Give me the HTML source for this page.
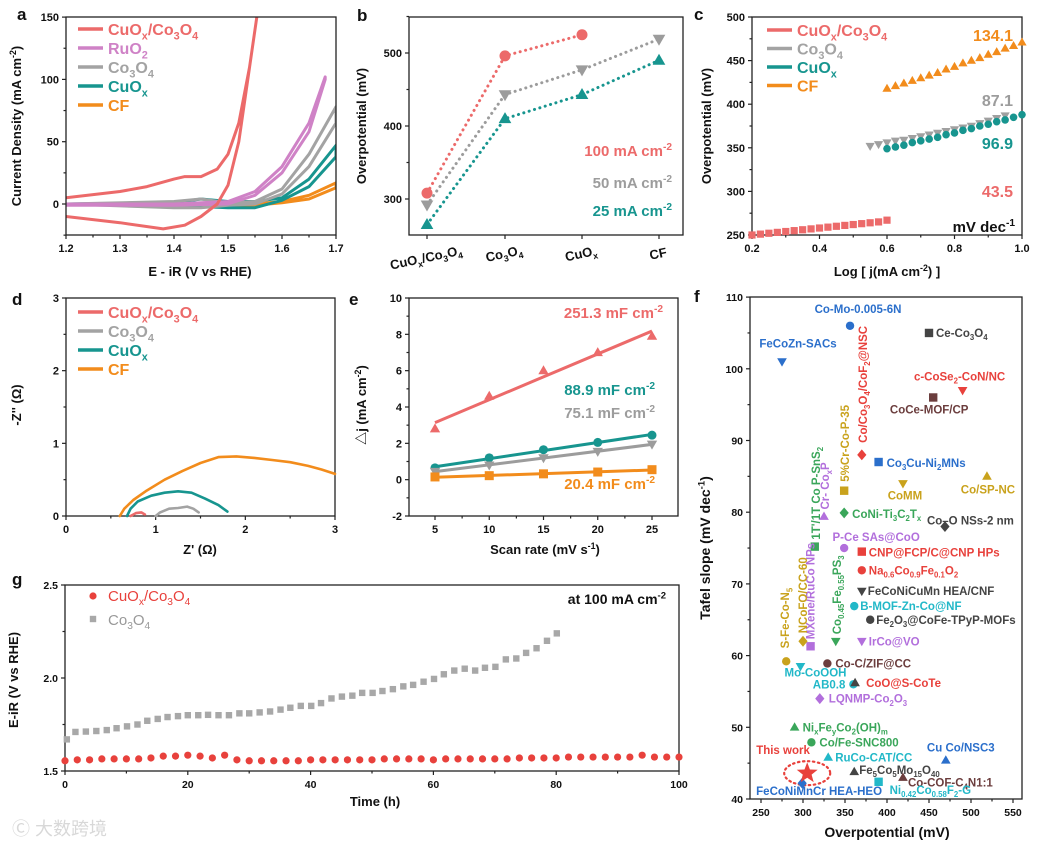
<!DOCTYPE html>
<html><head><meta charset="utf-8"><style>
html,body{margin:0;padding:0;background:#fff;}
svg{display:block;font-family:"Liberation Sans","Noto Sans CJK SC",sans-serif;}
</style></head><body>
<svg id="fig" width="1039" height="851" viewBox="0 0 1039 851" xmlns="http://www.w3.org/2000/svg"></svg>
<script>
// ---------- DATA ----------
// panel a (CV curves): voltage / current pairs per branch
const aV1=[1.2,1.3,1.35,1.4,1.42,1.45,1.48,1.5,1.52,1.54,1.555];
const aCuCoUp=[5,10,14,20,22,22,28,40,65,110,155];
const aV2=[1.2,1.3,1.38,1.42,1.45,1.48,1.5,1.52,1.54,1.555];
const aCuCoDn=[-10,-15,-20,-17,-10,0,15,50,110,155];
const aVr=[1.2,1.4,1.5,1.55,1.6,1.65,1.68];
const aRuUp=[0,0,2,10,30,65,102];
const aRuDn=[-1,-1,0,7,25,58,100];
const aVc=[1.2,1.4,1.45,1.5,1.55,1.6,1.65,1.7];
const aCoUp=[0,2,4,1,2,12,40,78];
const aCoDn=[0,-3,-3,-1,0,8,30,65];
const aCuUp=[0,1,4,2,2,5,20,47];
const aCuDn=[0,-1,-2,-3,-3,3,14,38];
const aCFUp=[0,0,0,0,0,2,7,17];
const aCFDn=[0,-1,-1,-1,-1,1,4,13];
// panel b
const bCats=["CuO_{x}/Co_{3}O_{4}","Co_{3}O_{4}","CuO_{x}","CF"];
const b100=[308,496,525];
const b50=[292,443,477,519];
const b25=[265,410,443,490];
// panel c
const cXCuCo=[0.2,0.225,0.25,0.275,0.3,0.325,0.35,0.375,0.4,0.425,0.45,0.475,0.5,0.525,0.55,0.575,0.6];
const cYCuCo=[250,251,252,253,254,255,256,257,258,259,260,261,262,263,264,265,267];
const cXCo=[0.55,0.575,0.6,0.625,0.65,0.675,0.7,0.725,0.75,0.775,0.8,0.825,0.85,0.875,0.9,0.925,0.95];
const cYCo=[352,354,356,358,359,361,363,365,367,369,371,373,375,378,381,384,387];
const cXCu=[0.6,0.625,0.65,0.675,0.7,0.725,0.75,0.775,0.8,0.825,0.85,0.875,0.9,0.925,0.95,0.975,1.0];
const cYCu=[349,351,353,356,358,360,362,365,367,370,372,375,377,380,382,385,388];
const cYCF=[418,421,424,427,430,433,436,440,443,447,450,453,457,460,464,467,471];
// panel d (Nyquist)
const dCFx=[0.6,0.65,0.75,0.9,1.1,1.3,1.5,1.7,1.9,2.1,2.3,2.5,2.7,2.85,3.0];
const dCFy=[0,0.1,0.22,0.35,0.5,0.62,0.73,0.81,0.82,0.8,0.77,0.74,0.69,0.64,0.58];
const dCux=[0.68,0.72,0.8,0.95,1.1,1.25,1.4,1.55,1.7,1.8];
const dCuy=[0,0.1,0.2,0.28,0.32,0.34,0.32,0.24,0.15,0.06];
const dCox=[1.0,1.05,1.15,1.25,1.35,1.42,1.48];
const dCoy=[0,0.05,0.1,0.11,0.13,0.1,0.05];
const dCCx=[0.72,0.78,0.84,0.88];
const dCCy=[0,0.04,0.05,0.02];
// panel e
const eScan=[5,10,15,20,25];
const eCuCo=[2.8,4.6,6.0,7.0,7.9];
const eCu=[0.65,1.2,1.65,2.05,2.45];
const eCo=[0.45,0.8,1.2,1.55,1.95];
const eCF=[0.15,0.22,0.32,0.42,0.55];
// panel f
const fNames=["Co-Mo-0.005-6N","FeCoZn-SACs","Ce-Co_{3}O_{4}","Co/Co_{3}O_{4}/CoF_{2}@NSC","c-CoSe_{2}-CoN/NC","CoCe-MOF/CP","5%Cr-Co-P-35","Co_{3}Cu-Ni_{2}MNs","CoMM","Co/SP-NC","1T'/1T Co P-SnS_{2}","Cr- Co_{x}P","CoNi-Ti_{3}C_{2}T_{x}","Co\u2013O NSs-2 nm","P-Ce SAs@CoO","CNP@FCP/C@CNP HPs","Na_{0.6}Co_{0.9}Fe_{0.1}O_{2}","FeCoNiCuMn HEA/CNF","B-MOF-Zn-Co@NF","Fe_{2}O_{3}@CoFe-TPyP-MOFs","IrCo@VO","Co_{0.45}Fe_{0.55}PS_{3}","MXene/RuCo NPs","NCoFO/CC-60","S-Fe-Co-N_{5}","Mo-CoOOH","Co-C/ZIF@CC","AB0.8","CoO@S-CoTe","LQNMP-Co_{2}O_{3}","Ni_{x}Fe_{y}Co_{2}(OH)_{m}","Co/Fe-SNC800","RuCo-CAT/CC","Cu Co/NSC3","Fe_{5}Co_{5}Mo_{15}O_{40}","Co-COF-C_{4}N1:1","Ni_{0.42}Co_{0.58}F_{2}-G","FeCoNiMnCr HEA-HEO","This work"];
const fOver=[356,275,450,370,490,455,349,390,419,519,314,325,349,469,349,370,370,370,361,380,370,339,309,300,280,297,329,360,362,320,290,310,330,470,361,419,390,299,305];
const fTafel=[106,101,105,88,97,96,83,87,84,85,75.2,79.4,79.9,78,75,74.5,71.9,69,66.9,65,62,62,61.3,62,59.2,58.5,58.9,56,56.2,54,50,47.9,45.8,45.4,43.8,43,42.4,42.2,43.6];
// panel g
const gTimeRed=[0,2,4,6,8,10,12,14,16,18,20,22,24,26,28,30,32,34,36,38,40,42,44,46,48,50,52,54,56,58,60,62,64,66,68,70,72,74,76,78,80,82,84,86,88,90,92,94,96,98,100];
const gRed=[1.555,1.56,1.56,1.565,1.565,1.565,1.565,1.57,1.58,1.58,1.585,1.58,1.57,1.585,1.56,1.555,1.555,1.555,1.555,1.555,1.56,1.56,1.56,1.56,1.56,1.56,1.565,1.565,1.565,1.565,1.56,1.565,1.565,1.565,1.565,1.565,1.565,1.57,1.57,1.57,1.57,1.575,1.575,1.575,1.575,1.575,1.575,1.585,1.575,1.575,1.575];
const gTimeGray=[0.3,1.7,3.4,5.1,6.8,8.4,10.1,11.8,13.4,15.1,16.7,18.4,20,21.7,23.3,25,26.7,28.4,30,31.7,33.4,35.1,36.7,38.4,40.1,41.7,43.4,45.1,46.8,48.4,50.1,51.7,53.4,55.1,56.7,58.4,60.1,61.7,63.4,65.1,66.8,68.4,70.1,71.8,73.5,75.1,76.8,78.5,80.1];
const gGray=[1.67,1.71,1.712,1.715,1.72,1.73,1.74,1.75,1.77,1.78,1.79,1.795,1.8,1.8,1.802,1.8,1.8,1.81,1.81,1.815,1.82,1.83,1.84,1.85,1.85,1.865,1.89,1.9,1.905,1.92,1.92,1.93,1.94,1.955,1.963,1.98,1.995,2.02,2.04,2.05,2.04,2.055,2.06,2.1,2.105,2.135,2.16,2.2,2.24];

// ---------- HELPERS ----------
const NS="http://www.w3.org/2000/svg";
const svg=document.getElementById('fig');
function mk(tag,parent){const e=document.createElementNS(NS,tag);(parent||svg).appendChild(e);return e;}
function sa(e,k,v){e.setAttribute(k,v);}
function rich(t,str,fs){
  const re=/([_^])\{([^}]*)\}/g;let last=0,m;let shifted=0;
  function plain(s){if(!s)return;const ts=mk('tspan',t);ts.textContent=s;if(shifted){sa(ts,'dy',-shifted);shifted=0;}}
  while((m=re.exec(str))){plain(str.slice(last,m.index));const ts=mk('tspan',t);ts.textContent=m[2];sa(ts,'font-size',fs*0.68);const d=m[1]==='_'?fs*0.28:-fs*0.4;sa(ts,'dy',d+(-shifted));shifted=d;last=re.lastIndex;}
  const rest=str.slice(last);if(rest)plain(rest);else if(shifted){const ts=mk('tspan',t);ts.textContent='\u200b';sa(ts,'dy',-shifted);}
}
function txt(parent,x,y,str,fs,color,anchor,weight,rot){const t=mk('text',parent);sa(t,'x',x);sa(t,'y',y);sa(t,'font-size',fs);sa(t,'fill',color||'#111');sa(t,'text-anchor',anchor||'start');sa(t,'font-weight',weight||'bold');if(rot)sa(t,'transform',`rotate(${rot} ${x} ${y})`);rich(t,str,fs);return t;}
function line(p,x1,y1,x2,y2,c,w){const l=mk('line',p);sa(l,'x1',x1);sa(l,'y1',y1);sa(l,'x2',x2);sa(l,'y2',y2);sa(l,'stroke',c||'#222');sa(l,'stroke-width',w||1.2);return l;}
function poly(p,pts,c,w,dash){const l=mk('polyline',p);sa(l,'points',pts.map(q=>q[0].toFixed(1)+','+q[1].toFixed(1)).join(' '));sa(l,'fill','none');sa(l,'stroke',c);sa(l,'stroke-width',w);sa(l,'stroke-linejoin','round');sa(l,'stroke-linecap','round');if(dash)sa(l,'stroke-dasharray',dash);return l;}
function marker(p,type,x,y,s,c){let e;
  if(type==='circle'){e=mk('circle',p);sa(e,'cx',x);sa(e,'cy',y);sa(e,'r',s);}
  else if(type==='square'){e=mk('rect',p);sa(e,'x',x-s);sa(e,'y',y-s);sa(e,'width',2*s);sa(e,'height',2*s);}
  else{e=mk('polygon',p);let pts;
    if(type==='up')pts=[[x,y-s*1.2],[x+s*1.15,y+s*0.8],[x-s*1.15,y+s*0.8]];
    else if(type==='down')pts=[[x,y+s*1.2],[x+s*1.15,y-s*0.8],[x-s*1.15,y-s*0.8]];
    else if(type==='diamond')pts=[[x,y-s*1.3],[x+s*1.1,y],[x,y+s*1.3],[x-s*1.1,y]];
    else{pts=[];for(let i=0;i<10;i++){const r=i%2?s*0.42:s;const a=-Math.PI/2+i*Math.PI/5;pts.push([x+r*Math.cos(a),y+r*Math.sin(a)]);}}
    sa(e,'points',pts.map(q=>q.join(',')).join(' '));}
  sa(e,'fill',c);return e;}
function frame(p,x0,x1,y0,y1,X,Y,xt,yt,xmin,ymin,fx,fy,fs){
  const r=mk('rect',p);sa(r,'x',x0);sa(r,'y',y0);sa(r,'width',x1-x0);sa(r,'height',y1-y0);sa(r,'fill','none');sa(r,'stroke','#222');sa(r,'stroke-width',1.3);
  xt.forEach(v=>{const x=X(v);line(p,x,y1,x,y1+4);if(fx!==null)txt(p,x,y1+17,fx(v),fs||11,'#111','middle');});
  (xmin||[]).forEach(v=>{const x=X(v);line(p,x,y1,x,y1+2.5);});
  yt.forEach(v=>{const y=Y(v);line(p,x0-4,y,x0,y);txt(p,x0-7,y+4,fy(v),fs||11,'#111','end');});
  (ymin||[]).forEach(v=>{const y=Y(v);line(p,x0-2.5,y,x0,y);});
}
function grp(name){const g=mk('g');return g;}
function letter(x,y,s){const t=txt(svg,x,y,s,17,'#111','start','bold');}
function clip(id,x,y,w,h){const d=mk('defs');const c=mk('clipPath',d);sa(c,'id',id);const r=mk('rect',c);sa(r,'x',x);sa(r,'y',y);sa(r,'width',w);sa(r,'height',h);}
const RED='#ec6a6a',PINK='#cf82c6',GRAY='#a3a3a3',TEAL='#17958f',ORG='#f28c1c';

// ---------- PANEL A ----------
(function(){
 const g=grp('panel-a-cv-chart');
 const X=v=>66+(v-1.2)/0.5*270, Y=j=>204-j*62.3/50;
 clip('ca',66,17,270,218);
 const cg=mk('g',g);sa(cg,'clip-path','url(#ca)');
 function cv(vs1,up,vs2,dn,c,n){const pts=vs1.map((v,i)=>[X(v),Y(up[i])]).concat(vs2.map((v,i)=>[X(v),Y(dn[i])]).reverse());const l=poly(cg,pts,c,3);}
 cv(aVc,aCFUp,aVc,aCFDn,ORG,'cf');
 cv(aVc,aCuUp,aVc,aCuDn,TEAL,'cuox');
 cv(aVc,aCoUp,aVc,aCoDn,GRAY,'co3o4');
 cv(aVr,aRuUp,aVr,aRuDn,PINK,'ruo2');
 cv(aV1,aCuCoUp,aV2,aCuCoDn,RED,'cuox-co3o4');
 frame(g,66,336,17,235,X,Y,[1.2,1.3,1.4,1.5,1.6,1.7],[0,50,100,150],[1.25,1.35,1.45,1.55,1.65],[-25,25,75,125],v=>v.toFixed(1),v=>String(v));
 const leg=[["CuO_{x}/Co_{3}O_{4}",RED],["RuO_{2}",PINK],["Co_{3}O_{4}",GRAY],["CuO_{x}",TEAL],["CF",ORG]];
 leg.forEach((l,i)=>{const y=29+i*19;const lg=grp('legend-entry-a-'+i);g.appendChild(lg);line(lg,78,y,103,y,l[1],3.5);txt(lg,108,y+6,l[0],16,l[1]);});
 txt(g,200,276,"E - iR (V vs RHE)",13,'#111','middle');
 txt(g,21,126,"Current Density (mA cm^{-2})",13,'#111','middle','bold',-90);
})();
letter(17,20,'a');

// ---------- PANEL B ----------
(function(){
 const g=grp('panel-b-overpotential-chart');
 const X=i=>[427,505,582,659][i], Y=v=>199-(v-300)*0.73;
 frame(g,409,683,17,235,X,Y,[0,1,2,3],[300,400,500],null,[350,450,550],null,v=>String(v));
 const ser=[[b100,RED,'circle','100'],[b50,'#9c9c9c','down','50'],[b25,TEAL,'up','25']];
 ser.forEach(s=>{const pts=s[0].map((v,i)=>[X(i),Y(v)]);poly(g,pts,s[1],3,'0.1,5.5');s[0].forEach((v,i)=>{const m=marker(g,s[2],X(i),Y(v),5.5,s[1]);});});
 bCats.forEach((c,i)=>{const t=txt(g,X(i),262-(i===0?0:4),c,13,'#111','middle','bold',-12);});
 txt(g,672,156,"100 mA cm^{-2}",15,RED,'end');
 txt(g,672,188,"50 mA cm^{-2}",15,'#9c9c9c','end');
 txt(g,672,216,"25 mA cm^{-2}",15,TEAL,'end');
 txt(g,366,126,"Overpotential (mV)",13,'#111','middle','bold',-90);
})();
letter(357,21,'b');

// ---------- PANEL C ----------
(function(){
 const g=grp('panel-c-tafel-chart');
 const X=x=>752+(x-0.2)/0.8*270, Y=v=>235-(v-250)/250*218;
 frame(g,752,1022,17,235,X,Y,[0.2,0.4,0.6,0.8,1.0],[250,300,350,400,450,500],[0.3,0.5,0.7,0.9],[275,325,375,425,475],v=>v.toFixed(1),v=>String(v));
 cXCuCo.forEach((x,i)=>marker(g,'square',X(x),Y(cYCuCo[i]),3.6,RED));
 cXCo.forEach((x,i)=>marker(g,'down',X(x),Y(cYCo[i]),4,'#a0a0a0'));
 cXCu.forEach((x,i)=>marker(g,'circle',X(x),Y(cYCu[i]),3.8,TEAL));
 cXCu.forEach((x,i)=>marker(g,'up',X(x),Y(cYCF[i]),4,ORG));
 const leg=[["CuO_{x}/Co_{3}O_{4}",RED],["Co_{3}O_{4}",GRAY],["CuO_{x}",TEAL],["CF",ORG]];
 leg.forEach((l,i)=>{const y=30+i*18.5;line(g,767,y,792,y,l[1],3.5);txt(g,797,y+6,l[0],16,l[1]);});
 txt(g,1013,41,"134.1",16,ORG,'end');
 txt(g,1013,106,"87.1",16,'#9c9c9c','end');
 txt(g,1013,149,"96.9",16,TEAL,'end');
 txt(g,1013,197,"43.5",16,RED,'end');
 txt(g,1015,232,"mV dec^{-1}",15,'#111','end');
 txt(g,887,276,"Log [ j(mA cm^{-2}) ]",13,'#111','middle');
 txt(g,711,126,"Overpotential (mV)",13,'#111','middle','bold',-90);
})();
letter(694,20,'c');

// ---------- PANEL D ----------
(function(){
 const g=grp('panel-d-nyquist-chart');
 const X=z=>66+z*269/3, Y=z=>516-z*218/3;
 frame(g,66,335,298,516,X,Y,[0,1,2,3],[0,1,2,3],[0.5,1.5,2.5],[0.5,1.5,2.5],v=>String(v),v=>String(v));
 [[dCFx,dCFy,ORG,'cf'],[dCux,dCuy,TEAL,'cuox'],[dCox,dCoy,GRAY,'co3o4'],[dCCx,dCCy,RED,'cuox-co3o4']].forEach(s=>{poly(g,s[0].map((x,i)=>[X(x),Y(s[1][i])]),s[2],2.6);});
 const leg=[["CuO_{x}/Co_{3}O_{4}",RED],["Co_{3}O_{4}",GRAY],["CuO_{x}",TEAL],["CF",ORG]];
 leg.forEach((l,i)=>{const y=312+i*19;line(g,78,y,103,y,l[1],3.5);txt(g,108,y+6,l[0],16,l[1]);});
 txt(g,200,554,"Z' (\u03a9)",13,'#111','middle');
 txt(g,21,405,"-Z'' (\u03a9)",13,'#111','middle','bold',-90);
})();
letter(12,305,'d');

// ---------- PANEL E ----------
(function(){
 const g=grp('panel-e-capacitance-chart');
 const X=s=>435+(s-5)*217/20, Y=j=>516-(j+2)*218/12;
 frame(g,409,678,298,516,X,Y,[5,10,15,20,25],[-2,0,2,4,6,8,10],[7.5,12.5,17.5,22.5],[-1,1,3,5,7,9],v=>String(v),v=>String(v));
 function fit(ys){const n=eScan.length;const mx=eScan.reduce((a,b)=>a+b)/n,my=ys.reduce((a,b)=>a+b)/n;let sxy=0,sxx=0;eScan.forEach((x,i)=>{sxy+=(x-mx)*(ys[i]-my);sxx+=(x-mx)*(x-mx);});const k=sxy/sxx;return x=>my+k*(x-mx);}
 [[eCuCo,RED,'up'],[eCu,TEAL,'circle'],[eCo,'#9c9c9c','down'],[eCF,ORG,'square']].forEach(s=>{const f=fit(s[0]);line(g,X(5),Y(f(5)),X(25),Y(f(25)),s[1],3);s[0].forEach((v,i)=>marker(g,s[2],X(eScan[i]),Y(v),4.5,s[1]));});
 txt(g,663,318,"251.3 mF cm^{-2}",15,RED,'end');
 txt(g,655,395,"88.9 mF cm^{-2}",15,TEAL,'end');
 txt(g,655,418,"75.1 mF cm^{-2}",15,'#9c9c9c','end');
 txt(g,655,489,"20.4 mF cm^{-2}",15,ORG,'end');
 txt(g,545,554,"Scan rate (mV s^{-1})",13,'#111','middle');
 txt(g,366,405,"\u25b3j (mA cm^{-2})",13,'#111','middle','bold',-90);
})();
letter(349,305,'e');

// ---------- PANEL F ----------
(function(){
 const g=grp('panel-f-comparison-chart');
 const X=x=>761+(x-250)*0.84, Y=y=>799-(y-40)*7.17;
 frame(g,750,1022,297,799,X,Y,[250,300,350,400,450,500,550],[40,50,60,70,80,90,100,110],[275,325,375,425,475,525],[45,55,65,75,85,95,105],v=>String(v),v=>String(v),10.5);
 const C={r:'#e8413c',b:'#2b6fcb',k:'#444',br:'#6b3d3d',y:'#c9a21c',gr:'#3aa65a',p:'#b26fdc',c:'#22b8c8'};
 const M=['circle','down','square','diamond','down','square','square','square','down','up','square','up','diamond','diamond','circle','square','circle','down','circle','circle','down','down','square','diamond','circle','down','circle','circle','up','diamond','up','circle','up','up','up','up','square','diamond','star'];
 const MC=['b','b','k','r','r','br','y','b','y','y','gr','p','gr','k','p','r','r','k','c','k','p','gr','p','y','y','c','br','c','k','p','gr','gr','c','b','k','br','c','b','r'];
 const LC=['b','b','k','r','r','br','y','b','y','y','gr','p','gr','k','p','r','r','k','c','k','p','gr','p','y','y','c','br','c','r','p','gr','gr','c','b','k','br','c','b','r'];
 // label offsets (dx,dy,anchor,rotated)
 const L=[[8,-13,'middle',0],[16,-14,'middle',0],[7,4,'start',0],[5,-12,'start',1],[-3,-10,'middle',0],[-4,16,'middle',0],[5,-9,'start',1],[8,5,'start',0],[2,16,'middle',0],[1,17,'middle',0],[5,-7,'start',1],[5,-7,'start',1],[8,5,'start',0],[-18,-2,'start',0],[32,-7,'middle',0],[7,5,'start',0],[7,4,'start',0],[6,4,'start',0],[6,4,'start',0],[6,4,'start',0],[7,4,'start',0],[5,-7,'start',1],[4,-7,'start',1],[4,-8,'start',1],[3,-13,'start',1],[15,10,'middle',0],[8,4,'start',0],[-8,4,'end',0],[11,4,'start',0],[9,4,'start',0],[8,4,'start',0],[8,4,'start',0],[7,4,'start',0],[15,-9,'middle',0],[5,2,'start',0],[5,9,'start',0],[11,12,'start',0],[-46,12,'start',0],[-51,-19,'start',0]];
 const lastIdx=fNames.length-1;
 // dotted ellipse around this work
 const el=mk('ellipse',g);sa(el,'cx',X(fOver[lastIdx]));sa(el,'cy',Y(fTafel[lastIdx]));sa(el,'rx',23);sa(el,'ry',12);sa(el,'fill','none');sa(el,'stroke',C.r);sa(el,'stroke-width',2.2);sa(el,'stroke-dasharray','1.5,3.5');sa(el,'stroke-linecap','round');
 fNames.forEach((n,i)=>{
   const x=X(fOver[i]),y=Y(fTafel[i]);
   const m=marker(g,M[i],x,y,i===lastIdx?11:4.2,C[MC[i]]);
   
   
   const l=L[i];const lx=x+l[0],ly=y+l[1];
   const t=txt(g,lx,ly,n,11.5,C[LC[i]],l[2],'bold',l[3]?-90:0);
   
   
 });
 txt(g,887,837,"Overpotential (mV)",14,'#111','middle');
 txt(g,710,548,"Tafel slope (mV dec^{-1})",14,'#111','middle','bold',-90);
})();
letter(694,302,'f');

// ---------- PANEL G ----------
(function(){
 const g=grp('panel-g-stability-chart');
 const X=t=>65+t*6.14, Y=v=>771-(v-1.5)*186;
 frame(g,65,679,585,771,X,Y,[0,20,40,60,80,100],[1.5,2.0,2.5],[10,30,50,70,90],[1.75,2.25],v=>String(v),v=>v.toFixed(1),10.5);
 gTimeGray.forEach((t,i)=>marker(g,'square',X(t),Y(gGray[i]),3.2,'#a8a8a8'));
 gTimeRed.forEach((t,i)=>marker(g,'circle',X(t),Y(gRed[i]),3.6,'#e8413c'));
 marker(g,'circle',93,596,3.6,'#e8413c');txt(g,108,601,"CuO_{x}/Co_{3}O_{4}",15,'#e8413c','start','normal');
 marker(g,'square',93,619,3.2,'#a8a8a8');txt(g,108,625,"Co_{3}O_{4}",15,'#999','start','normal');
 txt(g,666,604,"at 100 mA cm^{-2}",14,'#111','end');
 txt(g,375,806,"Time (h)",13,'#111','middle');
 txt(g,18,680,"E-iR (V vs RHE)",13,'#111','middle','bold',-90);
})();
letter(12,585,'g');
const wm=txt(svg,12,835,"\u24b8\u00a0大数跨境",18,'#d8d8d8','start','normal');


</script>
</body></html>
